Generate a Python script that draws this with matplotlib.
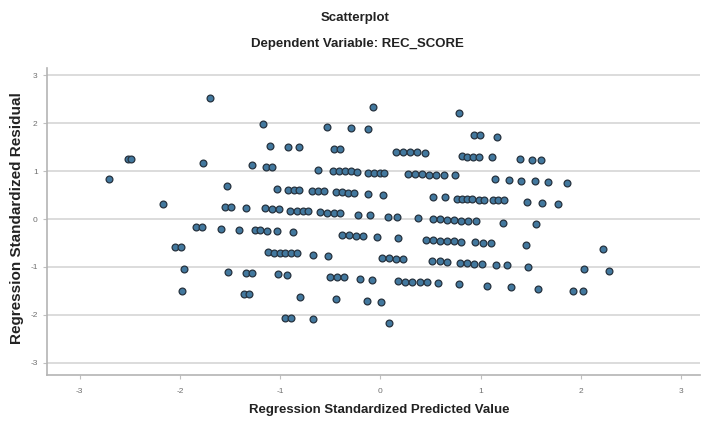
import numpy as np
import matplotlib
matplotlib.use("Agg")
from matplotlib import pyplot as plt

plt.rcParams['font.family'] = ['Liberation Sans', 'DejaVu Sans']

# standardized predicted values (x) and standardized residuals (y), band by band
pred = np.array([
    # top outliers
    -1.70, -0.07, 0.79, -1.17,
    -0.53, -0.29, -0.12,
    0.94, 0.99, 1.16,
    # ~1.5 .. 1.25
    -1.10, -0.92, -0.81, -0.46, -0.40, 0.16, 0.23, 0.30, 0.37, 0.45,
    0.82, 0.87, 0.93, 0.98, 1.11, 1.39, 1.51, 1.60,
    # ~1.25 .. 0.75
    -2.52, -2.49, -1.77, -1.28, -1.14, -1.08, -0.62, -0.47, -0.41, -0.35,
    -0.29, -0.23, -0.12, -0.06, 0.00, 0.04, 0.28, 0.35, 0.42, 0.49,
    0.56, 0.64, 0.75, 1.14, 1.28, 1.40, 1.54, 1.67, 1.86, -2.71,
    # ~0.7 .. 0.5
    -1.53, -1.03, -0.92, -0.86, -0.81, -0.68, -0.62, -0.56, -0.44, -0.38,
    -0.32, -0.26, -0.12, 0.03,
    # ~0.45 .. 0.3
    0.53, 0.65, 0.77, 0.82, 0.87, 0.92, 0.98, 1.03, 1.12, 1.17,
    1.23, 1.46, 1.61, 1.77,
    # ~0.3 .. -0.1
    -2.17, -1.55, -1.49, -1.34, -1.15, -1.08, -1.01, -0.90, -0.83, -0.77,
    -0.72, -0.60, -0.53, -0.46, -0.40, -0.22, -0.10, 0.08, 0.17, 0.38,
    0.53, 0.60, 0.67, 0.74, 0.81, 0.88, 0.96, 1.22, 1.55,
    # ~-0.15 .. -0.6
    -1.84, -1.78, -1.59, -1.41, -1.25, -1.20, -1.13, -1.03, -0.87, -0.38,
    -0.31, -0.24, -0.17, -0.03, 0.18, 0.46, 0.53, 0.60, 0.67, 0.74,
    0.81, 0.95, 1.02, 1.10, 1.45, 2.22,
    # ~-0.6 .. -1.1
    -2.05, -1.99, -1.12, -1.06, -1.00, -0.95, -0.89, -0.83, -0.67, -0.52,
    0.02, 0.09, 0.16, 0.23, 0.52, 0.60, 0.67, 0.80, 0.87, 0.94,
    1.01, 1.15, 1.26, 1.47, 2.03, 2.28,
    # ~-1.05 .. -1.5
    -1.96, -1.52, -1.34, -1.28, -1.02, -0.93, -0.50, -0.43, -0.36, -0.20,
    -0.08, 0.18, 0.25, 0.32, 0.40, 0.47, 0.58, 0.79, 1.06, 1.30,
    1.57, 1.92, 2.02,
    # ~-1.5 .. -1.75
    -1.98, -1.36, -1.31, -0.80, -0.44, -0.13, 0.01,
    # ~-2.1
    -0.95, -0.89, -0.67, 0.09,
])

resid = np.array([
    2.52, 2.33, 2.22, 1.99,
    1.93, 1.91, 1.89,
    1.76, 1.76, 1.72,
    1.53, 1.51, 1.51, 1.47, 1.47, 1.39, 1.39, 1.39, 1.39, 1.37,
    1.32, 1.30, 1.30, 1.30, 1.29, 1.26, 1.24, 1.24,
    1.26, 1.26, 1.18, 1.12, 1.09, 1.09, 1.03, 1.01, 1.01, 1.01,
    1.01, 0.99, 0.97, 0.97, 0.97, 0.97, 0.93, 0.93, 0.93, 0.91,
    0.91, 0.91, 0.91, 0.84, 0.82, 0.80, 0.80, 0.78, 0.76, 0.84,
    0.70, 0.63, 0.61, 0.61, 0.61, 0.59, 0.59, 0.59, 0.57, 0.57,
    0.55, 0.55, 0.53, 0.51,
    0.47, 0.45, 0.42, 0.42, 0.42, 0.42, 0.40, 0.40, 0.40, 0.40,
    0.40, 0.36, 0.34, 0.32,
    0.32, 0.26, 0.26, 0.24, 0.22, 0.20, 0.20, 0.17, 0.17, 0.17,
    0.17, 0.15, 0.13, 0.13, 0.13, 0.09, 0.09, 0.05, 0.05, 0.03,
    0.01, 0.01, -0.01, -0.01, -0.04, -0.04, -0.04, -0.08, -0.10,
    -0.16, -0.16, -0.20, -0.22, -0.22, -0.22, -0.24, -0.24, -0.27, -0.33,
    -0.33, -0.35, -0.35, -0.37, -0.39, -0.43, -0.43, -0.45, -0.45, -0.45,
    -0.48, -0.48, -0.50, -0.50, -0.54, -0.62,
    -0.58, -0.58, -0.68, -0.70, -0.70, -0.72, -0.72, -0.72, -0.75, -0.77,
    -0.81, -0.81, -0.83, -0.83, -0.87, -0.87, -0.89, -0.91, -0.91, -0.94,
    -0.94, -0.96, -0.96, -1.00, -1.04, -1.08,
    -1.04, -1.10, -1.12, -1.12, -1.14, -1.17, -1.21, -1.21, -1.21, -1.25,
    -1.27, -1.29, -1.31, -1.31, -1.31, -1.31, -1.33, -1.35, -1.40, -1.42,
    -1.46, -1.50, -1.50,
    -1.50, -1.56, -1.56, -1.63, -1.67, -1.71, -1.73,
    -2.06, -2.06, -2.08, -2.17,
])

ticks = [-3, -2, -1, 0, 1, 2, 3]

fig = plt.figure(figsize=(7.07, 4.21), dpi=100)
ax = fig.add_axes([0.066, 0.109, 0.924, 0.729])

ax.scatter(pred, resid, s=24, c='#42789e', edgecolors='#26323e',
           linewidths=0.9, zorder=3)

ax.set_xlim(-3.33, 3.19)
ax.set_ylim(-3.26, 3.15)
ax.set_xticks(ticks)
ax.set_yticks(ticks)
ax.set_xticklabels([str(t) for t in ticks])
ax.set_yticklabels([str(t) for t in ticks])

# horizontal reference lines only
ax.grid(axis='y', color='#d6d6d6', linewidth=1.2, zorder=0)
ax.grid(axis='x', visible=False)

for side in ['top', 'right']:
    ax.spines[side].set_visible(False)
for side in ['left', 'bottom']:
    ax.spines[side].set_color('#b4b4b4')
    ax.spines[side].set_linewidth(1.2)

ax.tick_params(axis='both', labelsize=6, labelcolor='#707070',
               color='#c0c0c0', length=3, width=0.8)
ax.tick_params(axis='x', pad=6)

fig.text(0.502, 0.958, 'Scatterplot', ha='center', va='center',
         fontsize=9.5, fontweight='bold', color='#222222')
fig.text(0.505, 0.895, 'Dependent Variable: REC_SCORE', ha='center',
         va='center', fontsize=9.5, fontweight='bold', color='#222222')

fig.text(0.537, 0.026, 'Regression Standardized Predicted Value',
         ha='center', va='center', fontsize=9.5, fontweight='bold',
         color='#222222')
fig.text(0.024, 0.482, 'Regression Standardized Residual', ha='center',
         va='center', rotation=90, fontsize=11, fontweight='bold',
         color='#222222')

fig.savefig('out.png', dpi=100)
